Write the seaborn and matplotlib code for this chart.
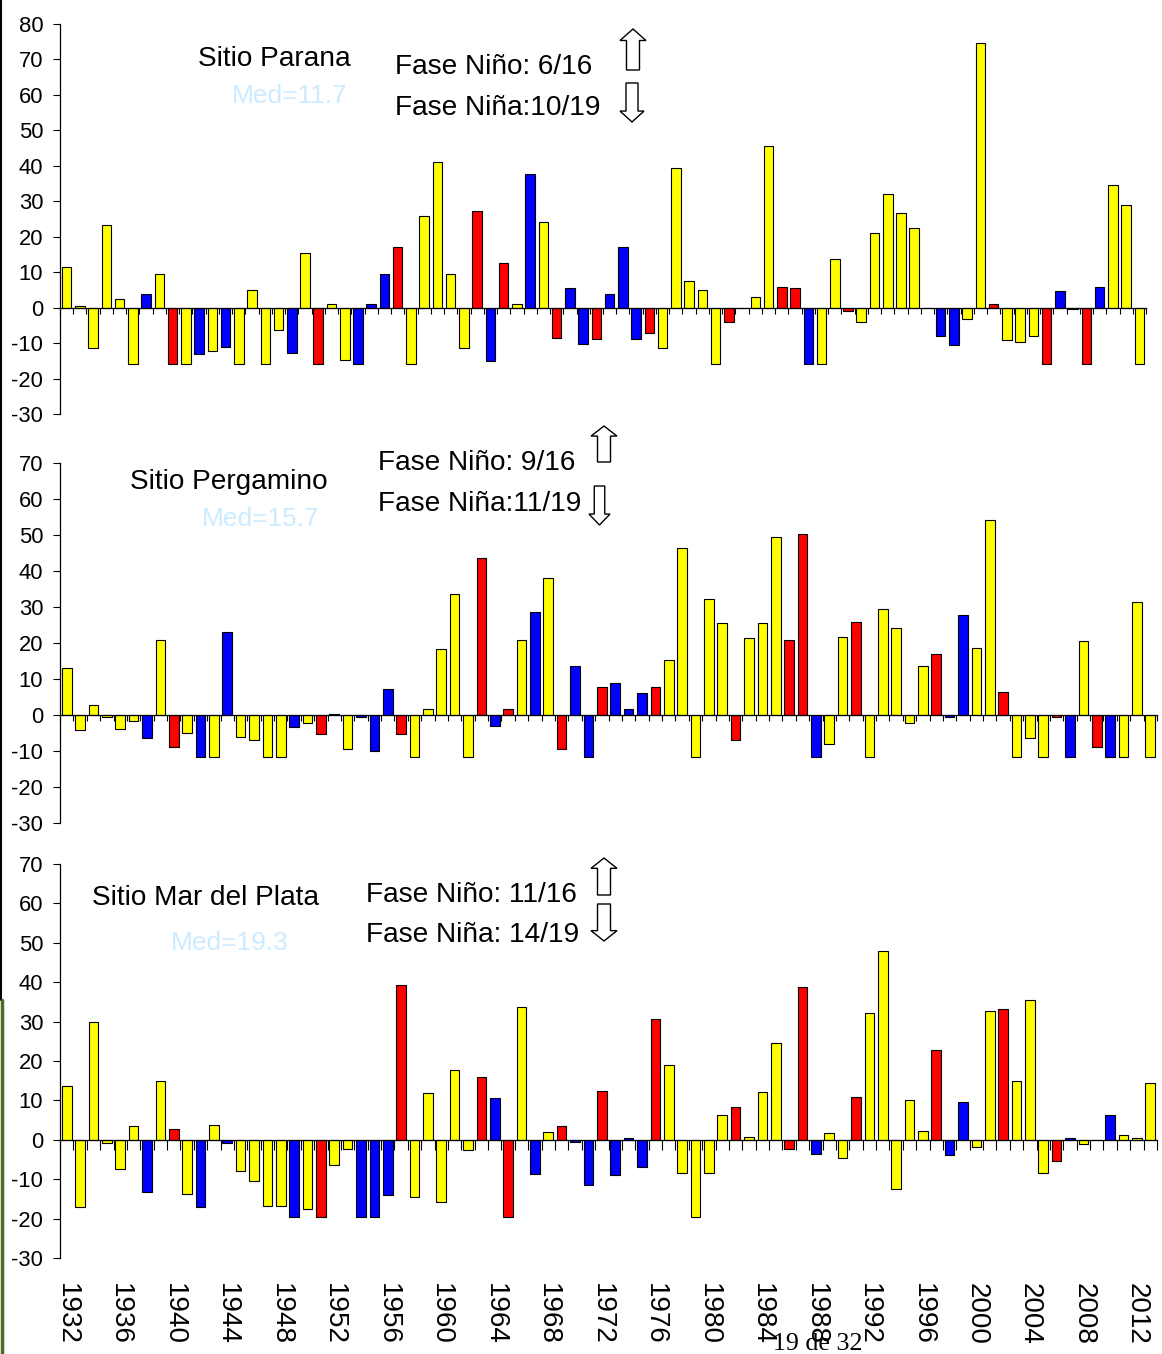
import numpy as np
import pandas as pd
import matplotlib
matplotlib.use("Agg")
import matplotlib.pyplot as plt
from matplotlib.patches import Polygon
from matplotlib.lines import Line2D
import seaborn as sns

# ---------------- data ----------------
years = list(range(1932, 2014))
nino_years = [1940, 1951, 1957, 1963, 1965, 1969, 1972, 1976, 1982, 1986,
              1987, 1991, 1997, 2002, 2006, 2009]
nina_years = [1938, 1942, 1944, 1949, 1954, 1955, 1956, 1964, 1967, 1970,
              1971, 1973, 1974, 1975, 1988, 1998, 1999, 2007, 2010]

parana = [11.5, 0.4, -11.4, 23.2, 2.5, -15.8, 3.8, 9.4, -15.8, -15.8,
          -13.2, -12.3, -11.0, -15.8, 5.0, -15.8, -6.3, -12.7, 15.5, -15.8,
          1.1, -14.8, -15.8, 1.1, 9.4, 17.2, -15.8, 25.8, 41.0, 9.4,
          -11.5, 27.3, -15.0, 12.5, 1.1, 37.7, 24.2, -8.5, 5.6, -10.2,
          -8.9, 3.8, 17.2, -8.9, -7.1, -11.5, 39.3, 7.6, 5.0, -15.8,
          -4.1, 0.0, 3.0, 45.5, 5.9, 5.5, -15.8, -15.8, 13.8, -1.0,
          -4.1, 21.1, 32.1, 26.8, 22.5, 0.0, -8.0, -10.6, -3.1, 74.6,
          1.1, -9.2, -9.7, -8.0, -15.8, 4.6, -0.5, -15.8, 5.9, 34.6,
          28.9, -15.8]

pergamino = [13.1, -4.3, 2.9, -0.5, -3.9, -1.8, -6.5, 20.8, -9.0, -5.1,
             -11.6, -11.6, 23.1, -6.0, -6.9, -11.6, -11.6, -3.4, -2.1, -5.2,
             0.4, -9.4, -0.5, -9.9, 7.3, -5.2, -11.6, 1.7, 18.3, 33.7,
             -11.6, 43.6, -3.1, 1.8, 20.9, 28.6, 38.0, -9.4, 13.6, -11.6,
             7.7, 8.9, 1.8, 6.0, 7.7, 15.4, 46.5, -11.6, 32.3, 25.6,
             -6.9, 21.3, 25.6, 49.4, 20.8, 50.3, -11.6, -8.1, 21.8, 25.9,
             -11.6, 29.4, 24.3, -2.1, 13.6, 17.0, -0.5, 27.7, 18.7, 54.2,
             6.3, -11.6, -6.5, -11.6, -0.5, -11.6, 20.5, -9.0, -11.6, -11.6,
             31.5, -11.6]

mar_del_plata = [13.6, -17.1, 29.9, -0.7, -7.3, 3.5, -13.2, 14.8, 2.7, -13.7,
                 -17.1, 3.8, -0.8, -7.8, -10.5, -16.7, -16.7, -19.5, -17.5, -19.5,
                 -6.3, -2.4, -19.5, -19.5, -14.0, 39.2, -14.4, 12.0, -15.9, 17.8,
                 -2.7, 15.9, 10.5, -19.5, 33.8, -8.7, 1.9, 3.5, -0.5, -11.4,
                 12.5, -8.9, 0.4, -7.0, 30.7, 19.0, -8.5, -19.5, -8.5, 6.2,
                 8.3, 0.8, 12.1, 24.6, -2.4, 38.9, -3.5, 1.6, -4.7, 10.9,
                 32.2, 47.8, -12.5, 10.1, 2.3, 22.9, -3.9, 9.6, -1.9, 32.7,
                 33.3, 14.8, 35.4, -8.5, -5.5, 0.4, -1.1, 0.0, 6.2, 1.2,
                 0.4, 14.3]

site_names = ["Sitio Parana", "Sitio Pergamino", "Sitio Mar del Plata"]
medians = ["Med=11.7", "Med=15.7", "Med=19.3"]
nino_text = ["Fase Niño: 6/16", "Fase Niño: 9/16", "Fase Niño: 11/16"]
nina_text = ["Fase Niña:10/19", "Fase Niña:11/19", "Fase Niña: 14/19"]
y_limits = [(-30, 80), (-30, 70), (-30, 70)]

phase_colors = {"Niño": "#FF0000", "Niña": "#0000FF", "Neutro": "#FFFF00"}

# ---------------- figure ----------------
sns.set_style("white")
plt.rcParams["font.family"] = ["Liberation Sans", "DejaVu Sans"]
plt.rcParams["axes.unicode_minus"] = False

W, H = 1162, 1354
fig = plt.figure(figsize=(W / 100, H / 100), dpi=100)


def fx(x):
    return x / W


def fy(y):
    return 1 - y / H


# axes boxes in pixels: left, right, top, bottom
boxes = [(60, 1146, 24, 414), (60, 1157, 463, 823), (60, 1157, 864, 1258)]
tick_len = [4, 4, 7]

phases = ["Niño" if y in nino_years else ("Niña" if y in nina_years else "Neutro")
          for y in years]
year_str = [str(y) for y in years]
series = [parana, pergamino, mar_del_plata]

axes = []
for k, (l, r, t, b) in enumerate(boxes):
    ax = fig.add_axes([fx(l), fy(b), (r - l) / W, (b - t) / H])
    df = pd.DataFrame({"year": year_str, "val": series[k], "phase": phases})
    sns.barplot(data=df, x="year", y="val", hue="phase", order=year_str,
                hue_order=["Niño", "Niña", "Neutro"], palette=phase_colors,
                dodge=False, width=0.72, edgecolor="black", linewidth=0.8,
                saturation=1, errorbar=None, legend=False, ax=ax)
    ax.set_xlim(-0.5, len(years) - 0.5)
    ax.set_ylim(*y_limits[k])
    ax.set_yticks(np.arange(y_limits[k][0], y_limits[k][1] + 1, 10))
    ax.set_xlabel("")
    ax.set_ylabel("")
    ax.set_facecolor("none")
    for s in ["top", "right"]:
        ax.spines[s].set_visible(False)
    ax.spines["left"].set_linewidth(0.9)
    ax.spines["bottom"].set_linewidth(0.9)
    ax.spines["left"].set_color("black")
    ax.spines["bottom"].set_color("black")
    ax.spines["bottom"].set_position(("data", 0))
    ax.set_xticks([])
    ax.set_xticks(np.arange(-0.5, len(years), 1), minor=True)
    ax.tick_params(axis="x", which="minor", direction="out", bottom=True,
                   length=tick_len[k], width=0.8, color="black")
    ax.tick_params(axis="y", which="major", direction="out", left=True,
                   length=5, width=0.8, labelsize=15.8, pad=7, color="black",
                   labelcolor="black")
    ax.grid(False)
    axes.append(ax)

# year labels on the bottom panel
sec = axes[2].secondary_xaxis("bottom")
sec.set_xticks(np.arange(0, len(years), 4))
sec.set_xticklabels(year_str[::4], rotation=-90, fontsize=20)
sec.tick_params(length=0, pad=18, labelcolor="black")
sec.spines["bottom"].set_visible(False)

# ---------------- annotations ----------------
title_pos = [(198, 66), (130, 489), (92, 905)]
med_pos = [(232, 103), (202, 526), (171, 950)]
nino_pos = [(395, 74), (378, 470), (366, 902)]
nina_pos = [(395, 115), (378, 511), (366, 942)]

for k in range(3):
    fig.text(fx(title_pos[k][0]), fy(title_pos[k][1]), site_names[k],
             fontsize=20.2, va="baseline", ha="left", color="black")
    fig.text(fx(med_pos[k][0]), fy(med_pos[k][1]), medians[k],
             fontsize=19, va="baseline", ha="left", color="#CCEBFF")
    fig.text(fx(nino_pos[k][0]), fy(nino_pos[k][1]), nino_text[k],
             fontsize=20.2, va="baseline", ha="left", color="black")
    fig.text(fx(nina_pos[k][0]), fy(nina_pos[k][1]), nina_text[k],
             fontsize=20.2, va="baseline", ha="left", color="black")


def block_arrow(xc, ytop, ybot, w, up=True):
    hl = 0.28 * (ybot - ytop)
    sw = 0.5 * w
    if up:
        pts = [(xc, ytop), (xc + w / 2, ytop + hl), (xc + sw / 2, ytop + hl),
               (xc + sw / 2, ybot), (xc - sw / 2, ybot), (xc - sw / 2, ytop + hl),
               (xc - w / 2, ytop + hl)]
    else:
        pts = [(xc, ybot), (xc + w / 2, ybot - hl), (xc + sw / 2, ybot - hl),
               (xc + sw / 2, ytop), (xc - sw / 2, ytop), (xc - sw / 2, ybot - hl),
               (xc - w / 2, ybot - hl)]
    pts = [(fx(px), fy(py)) for px, py in pts]
    fig.add_artist(Polygon(pts, closed=True, facecolor="white", edgecolor="black",
                           linewidth=1.0, transform=fig.transFigure))


block_arrow(633, 29, 70, 26, up=True)
block_arrow(632, 83, 122, 24, up=False)
block_arrow(604, 426, 462, 26, up=True)
block_arrow(599.5, 486, 525, 21, up=False)
block_arrow(604, 858, 895, 26, up=True)
block_arrow(604, 904, 941, 26, up=False)

# page footer
fig.text(fx(773), fy(1350), "19 de 32", fontsize=18.7, va="baseline", ha="left",
         family=["Liberation Serif", "DejaVu Serif"], color="black")

# left edge decoration
fig.add_artist(Line2D([fx(1), fx(1)], [fy(0), fy(1000)], color="black",
                      linewidth=1.5, transform=fig.transFigure))
fig.add_artist(Line2D([fx(1.5), fx(1.5)], [fy(1000), fy(1354)], color="#4f6a22",
                      linewidth=2.5, transform=fig.transFigure))

fig.savefig("out.png", dpi=100)
